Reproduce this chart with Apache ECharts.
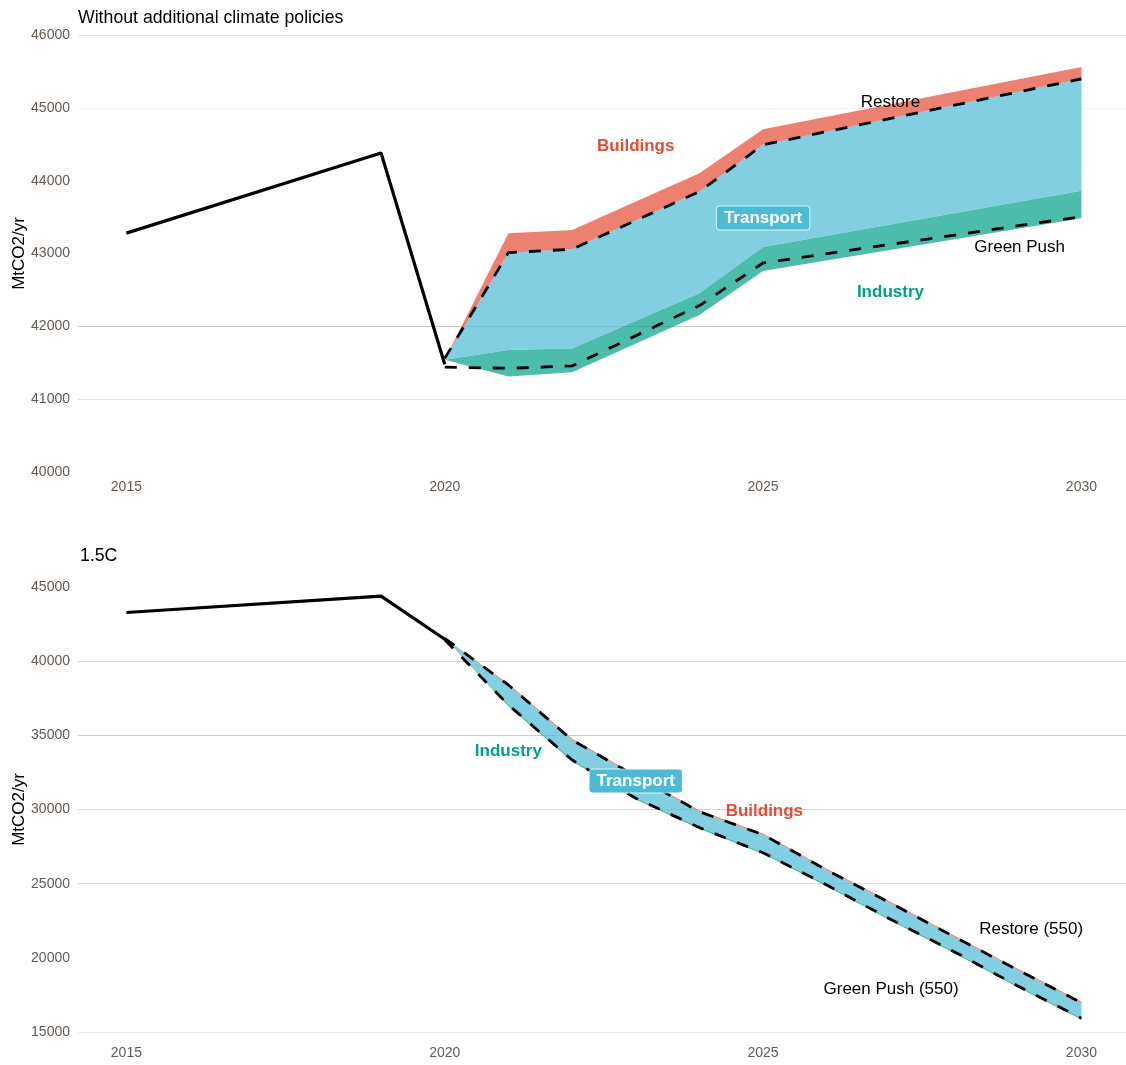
<!DOCTYPE html>
<html>
<head>
<meta charset="utf-8">
<title>CO2 emission pathways</title>
<script src="https://cdn.jsdelivr.net/npm/echarts@6/dist/echarts.min.js"></script>
<style>
  html, body { margin: 0; padding: 0; background: #ffffff; }
  #chart { width: 1126px; height: 1065px; }
</style>
</head>
<body>
<div id="chart"></div>
<script>
// Historical emissions (MtCO2/yr)
const histYears = [2015, 2019, 2020];
const histValues = [43280, 44380, 41480];

// Panel 1: without additional climate policies
const baseYears = [2020, 2021, 2022, 2024, 2025, 2030];
const baseIndustryLow = [41540, 41310, 41369, 42157, 42760, 43485];
const baseIndustryHigh = [41540, 41676, 41694, 42455, 43090, 43860];
const baseTransportHigh = [41540, 43012, 43059, 43850, 44492, 45398];
const baseBuildingsHigh = [41540, 43279, 43324, 44103, 44707, 45559];
const baseRestore = [41560, 43012, 43059, 43850, 44492, 45398];
const baseGreenPush = [41440, 41424, 41456, 42285, 42870, 43507];

// Panel 2: 1.5C pathway
const lowYears = [2020, 2021, 2022, 2023, 2024, 2025, 2026, 2027, 2028, 2029, 2030];
const lowIndustryLow = [41540, 36960, 33250, 30680, 28700, 27000, 24830, 22520, 20330, 18020, 15840];
const lowIndustryHigh = [41540, 37090, 33380, 30800, 28820, 27120, 24950, 22640, 20450, 18140, 15960];
const lowTransportHigh = [41540, 38394, 34686, 32250, 29853, 28300, 25922, 23697, 21426, 19180, 16977];
const lowBuildingsHigh = [41540, 38480, 34770, 32330, 29930, 28380, 26000, 23780, 21510, 19260, 17060];
const lowRestore = [41540, 38394, 34686, 32250, 29853, 28300, 25922, 23697, 21426, 19180, 16977];
const lowGreenPush = [41440, 37046, 33338, 30757, 28780, 27080, 24911, 22598, 20414, 18101, 15923];

// Axis ticks
const xTicks = [2015, 2020, 2025, 2030];
const panelTitles = ['Without additional climate policies', '1.5C'];

// Text annotations: [panel, year, value, text, kind]
const annotations = [
  [0, 2023.0, 44478, 'Buildings', 'buildings'],
  [0, 2025.0, 43489, 'Transport', 'transport'],
  [0, 2027.0, 42473, 'Industry', 'industry'],
  [0, 2027.0, 45082, 'Restore', 'scenario'],
  [0, 2029.03, 43091, 'Green Push', 'scenario'],
  [1, 2021.0, 33945, 'Industry', 'industry'],
  [1, 2023.0, 31923, 'Transport', 'transport'],
  [1, 2025.02, 29900, 'Buildings', 'buildings'],
  [1, 2029.21, 21944, 'Restore (550)', 'scenario'],
  [1, 2027.01, 17899, 'Green Push (550)', 'scenario']
];

const FONT = '"Liberation Sans", Arial, sans-serif';
const RED = '#E64B35', BLUE = '#4DBBD5', GREEN = '#00A087';
const TICK_COLOR = '#625a52';

const pairs = (xs, ys) => xs.map((x, i) => [x, ys[i]]);

// A filled ribbon between a lower and an upper edge, drawn as one polygon
function bandSeries(idx, name, years, lo, hi, fill) {
  const n = years.length;
  return {
    type: 'custom', name: name, xAxisIndex: idx, yAxisIndex: idx,
    data: years.map((y, i) => [y, lo[i], hi[i]]),
    encode: { x: 0, y: [1, 2] },
    silent: true, z: 2, clip: true,
    renderItem: function (params, api) {
      if (params.dataIndexInside !== 0) return null;
      const top = [], bottom = [];
      for (let i = 0; i < n; i++) {
        top.push(api.coord([api.value(0, i), api.value(2, i)]));
        bottom.push(api.coord([api.value(0, i), api.value(1, i)]));
      }
      return {
        type: 'polygon',
        shape: { points: top.concat(bottom.reverse()) },
        style: { fill: fill, stroke: null }
      };
    }
  };
}

function dashedSeries(idx, name, years, values) {
  return {
    type: 'line', name: name, xAxisIndex: idx, yAxisIndex: idx,
    data: pairs(years, values), symbol: 'none', silent: true, z: 4,
    lineStyle: { color: '#000', width: 2.8, type: [12, 12] }
  };
}

function histSeries(idx) {
  return {
    type: 'line', name: 'History', xAxisIndex: idx, yAxisIndex: idx,
    data: pairs(histYears, histValues), symbol: 'none', silent: true, z: 5,
    lineStyle: { color: '#000', width: 3.2 }
  };
}

function xAxis(idx, margin) {
  return {
    type: 'value', gridIndex: idx, min: 2014.24, max: 2030.7,
    axisLine: { show: false }, axisTick: { show: false }, splitLine: { show: false },
    axisLabel: { customValues: xTicks, formatter: v => String(v),
                 color: TICK_COLOR, fontSize: 14, fontFamily: FONT, margin: margin }
  };
}

function yAxis(idx, min, max, interval, gridColors) {
  return {
    type: 'value', gridIndex: idx, min: min, max: max, interval: interval,
    name: 'MtCO2/yr', nameLocation: 'middle', nameGap: 50, nameRotate: 90,
    nameMoveOverlap: false,
    nameTextStyle: { color: '#000', fontSize: 17, fontFamily: FONT },
    axisLine: { show: false }, axisTick: { show: false },
    axisLabel: { formatter: v => String(v), color: TICK_COLOR, fontSize: 14, fontFamily: FONT, margin: 8 },
    splitLine: { show: true, lineStyle: { color: gridColors, width: 1 } }
  };
}

const chart = echarts.init(document.getElementById('chart'), null, { renderer: 'canvas' });

chart.setOption({
  animation: false,
  backgroundColor: '#ffffff',
  title: [
    { text: panelTitles[0], left: 78, top: 9, padding: 0,
      textStyle: { color: '#000', fontSize: 17.7, fontWeight: 'normal', fontFamily: FONT } },
    { text: panelTitles[1], left: 80, top: 547, padding: 0,
      textStyle: { color: '#000', fontSize: 17.7, fontWeight: 'normal', fontFamily: FONT } }
  ],
  grid: [
    { left: 78, right: 0, top: 35, height: 437, outerBoundsMode: 'none', containLabel: false },
    { left: 78, right: 0, top: 587, height: 445, outerBoundsMode: 'none', containLabel: false }
  ],
  xAxis: [xAxis(0, 8), xAxis(1, 14)],
  yAxis: [
    yAxis(0, 40000, 46000, 1000,
      ['rgba(0,0,0,0)', '#e6e6e6', '#c9c9c9', 'rgba(0,0,0,0)', 'rgba(0,0,0,0)', '#f1f1f1', '#e0e0e0']),
    yAxis(1, 15000, 45000, 5000,
      ['#ebebeb', 'rgba(0,0,0,0)', '#dcdcdc', '#d6d6d6', '#cfcfcf', '#d6d6d6', 'rgba(0,0,0,0)'])
  ],
  series: [
    bandSeries(0, 'Industry', baseYears, baseIndustryLow, baseIndustryHigh, 'rgba(0,160,135,0.7)'),
    bandSeries(0, 'Transport', baseYears, baseIndustryHigh, baseTransportHigh, 'rgba(77,187,213,0.7)'),
    bandSeries(0, 'Buildings', baseYears, baseTransportHigh, baseBuildingsHigh, 'rgba(230,75,53,0.7)'),
    dashedSeries(0, 'Restore', baseYears, baseRestore),
    dashedSeries(0, 'Green Push', baseYears, baseGreenPush),
    histSeries(0),
    bandSeries(1, 'Industry', lowYears, lowIndustryLow, lowIndustryHigh, 'rgba(0,160,135,0.7)'),
    bandSeries(1, 'Transport', lowYears, lowIndustryHigh, lowTransportHigh, 'rgba(77,187,213,0.7)'),
    bandSeries(1, 'Buildings', lowYears, lowTransportHigh, lowBuildingsHigh, 'rgba(230,75,53,0.7)'),
    dashedSeries(1, 'Restore (550)', lowYears, lowRestore),
    dashedSeries(1, 'Green Push (550)', lowYears, lowGreenPush),
    histSeries(1)
  ]
});

// Place the text annotations at their data coordinates
const labelStyles = {
  buildings: { font: 'bold 17px ' + FONT, fill: RED },
  industry: { font: 'bold 17px ' + FONT, fill: GREEN },
  transport: { font: 'bold 17px ' + FONT, fill: '#ffffff', backgroundColor: BLUE,
               padding: [3, 7, 3, 7], borderRadius: 3, borderColor: 'rgba(255,255,255,0.7)', borderWidth: 1 },
  scenario: { font: '17px ' + FONT, fill: '#000000' }
};

const graphics = annotations.map(([panel, year, value, text, kind]) => {
  const [px, py] = chart.convertToPixel({ xAxisIndex: panel, yAxisIndex: panel }, [year, value]);
  return {
    type: 'text', x: px, y: py, z: 10, silent: true,
    style: Object.assign({ text: text, align: 'center', verticalAlign: 'middle' }, labelStyles[kind])
  };
});

chart.setOption({ graphic: graphics });
</script>
</body>
</html>
